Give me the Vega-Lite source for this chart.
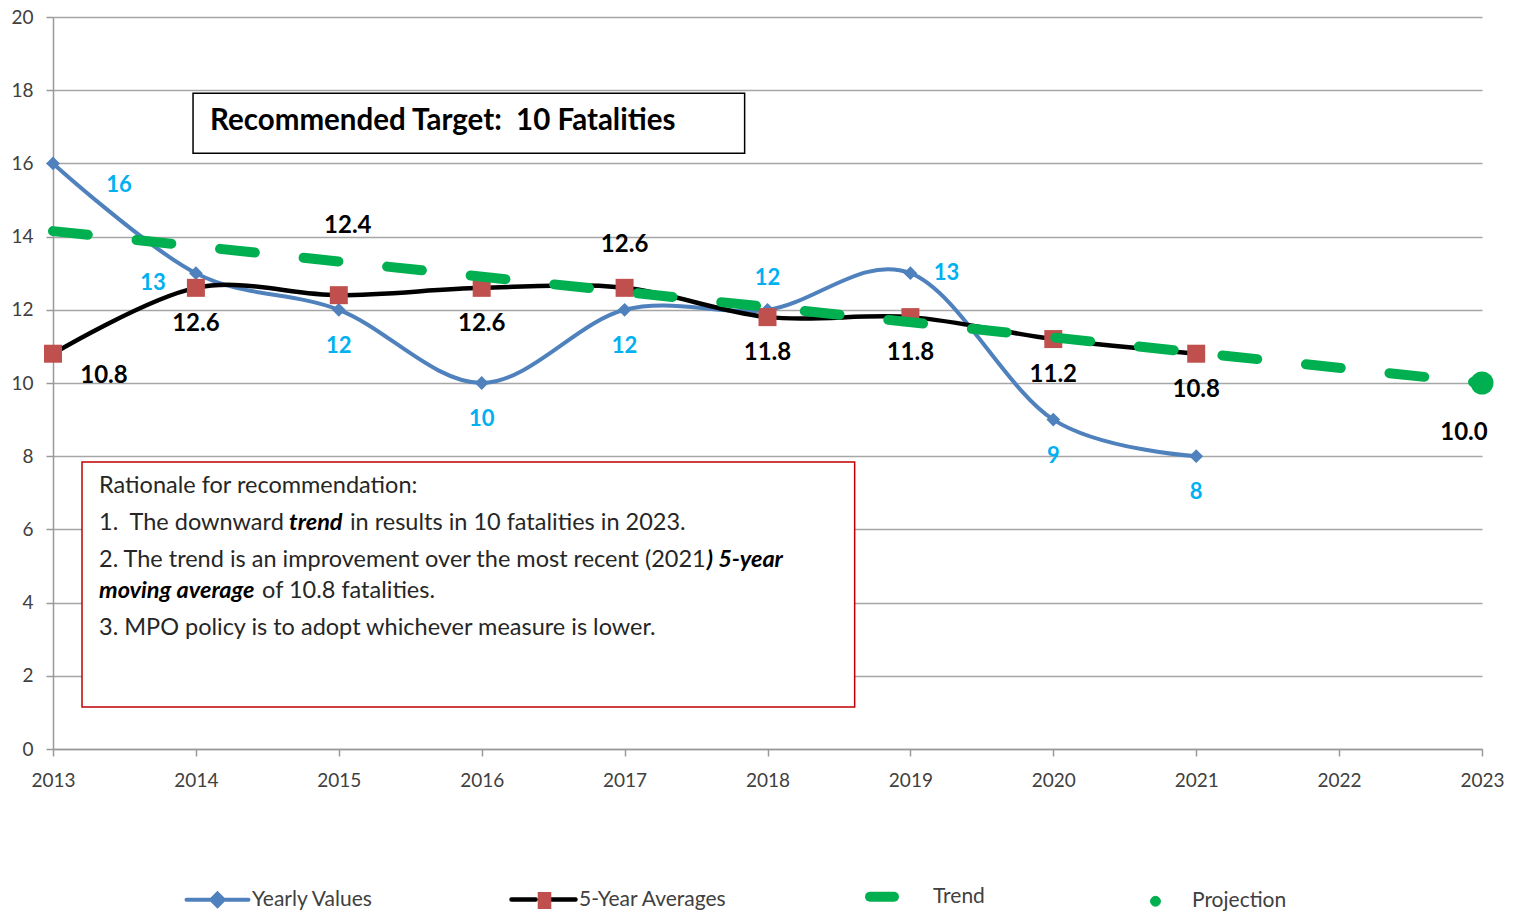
{
  "$schema": "https://vega.github.io/schema/vega-lite/v6.json",
  "width": 1429,
  "height": 732,
  "autosize": {"type": "none"},
  "padding": {"left": 53, "top": 17, "right": 39, "bottom": 165},
  "background": "white",
  "config": {"view": {"stroke": null}, "font": "Lato"},
  "data": {
    "values": [
      {"series": "Yearly Values", "year": 2013, "value": 16},
      {"series": "Yearly Values", "year": 2014, "value": 13},
      {"series": "Yearly Values", "year": 2015, "value": 12},
      {"series": "Yearly Values", "year": 2016, "value": 10},
      {"series": "Yearly Values", "year": 2017, "value": 12},
      {"series": "Yearly Values", "year": 2018, "value": 12},
      {"series": "Yearly Values", "year": 2019, "value": 13},
      {"series": "Yearly Values", "year": 2020, "value": 9},
      {"series": "Yearly Values", "year": 2021, "value": 8},
      {"series": "5-Year Averages", "year": 2013, "value": 10.8},
      {"series": "5-Year Averages", "year": 2014, "value": 12.6},
      {"series": "5-Year Averages", "year": 2015, "value": 12.4},
      {"series": "5-Year Averages", "year": 2016, "value": 12.6},
      {"series": "5-Year Averages", "year": 2017, "value": 12.6},
      {"series": "5-Year Averages", "year": 2018, "value": 11.8},
      {"series": "5-Year Averages", "year": 2019, "value": 11.8},
      {"series": "5-Year Averages", "year": 2020, "value": 11.2},
      {"series": "5-Year Averages", "year": 2021, "value": 10.8},
      {"series": "Trend", "year": 2013, "value": 14.15},
      {"series": "Trend", "year": 2023, "value": 10.0},
      {"series": "Projection", "year": 2023, "value": 10.0}
    ]
  },
  "encoding": {
    "x": {
      "field": "year", "type": "quantitative",
      "scale": {"domain": [2013, 2023], "nice": false, "zero": false},
      "axis": {
        "title": null, "values": [2013, 2014, 2015, 2016, 2017, 2018, 2019, 2020, 2021, 2022, 2023],
        "format": "d", "grid": false, "labelFlush": false, "labelOverlap": false,
        "tickSize": 7, "tickColor": "#999999", "tickWidth": 1.5, "domainColor": "#999999", "domainWidth": 1.5,
        "labelFontSize": 19, "labelColor": "#404040", "labelFont": "Lato", "labelPadding": 15
      }
    },
    "y": {
      "field": "value", "type": "quantitative",
      "scale": {"domain": [0, 20], "nice": false, "zero": true},
      "axis": {
        "title": null, "values": [0, 2, 4, 6, 8, 10, 12, 14, 16, 18, 20],
        "grid": true, "gridColor": "#A6A6A6", "gridWidth": 1.5,
        "tickSize": 7, "tickColor": "#999999", "tickWidth": 1.5, "domainColor": "#999999", "domainWidth": 1.5,
        "labelFontSize": 19, "labelColor": "#404040", "labelFont": "Lato", "labelPadding": 13
      }
    }
  },
  "layer": [
    {
      "transform": [{"filter": "datum.series === 'Projection'"}],
      "mark": {"type": "rect", "fill": "white", "stroke": "black", "strokeWidth": 1.5},
      "encoding": {
        "x": {"datum": 2013.98, "type": "quantitative"}, "x2": {"datum": 2017.84},
        "y": {"datum": 17.92, "type": "quantitative"}, "y2": {"datum": 16.28}
      }
    },
    {
      "transform": [{"filter": "datum.series === 'Projection'"}],
      "mark": {"type": "text", "text": "Recommended Target:\u00a0 10 Fatalities", "align": "left", "baseline": "middle", "font": "Lato", "fontSize": 29.5, "fontWeight": "bold", "color": "#000000"},
      "encoding": {"x": {"datum": 2014.099, "type": "quantitative"}, "y": {"datum": 17.16, "type": "quantitative"}}
    },
    {
      "transform": [{"filter": "datum.series === 'Projection'"}],
      "mark": {"type": "rect", "fill": "white", "stroke": "#C00000", "strokeWidth": 1.5},
      "encoding": {
        "x": {"datum": 2013.203, "type": "quantitative"}, "x2": {"datum": 2018.61},
        "y": {"datum": 7.84, "type": "quantitative"}, "y2": {"datum": 1.15}
      }
    },
    {
      "transform": [{"filter": "datum.series === 'Projection'"}],
      "mark": {"type": "text", "text": "Rationale for recommendation:", "align": "left", "baseline": "middle", "font": "Lato", "fontSize": 23.5, "color": "#262626"},
      "encoding": {"x": {"datum": 2013.322, "type": "quantitative"}, "y": {"datum": 7.186, "type": "quantitative"}}
    },
    {
      "transform": [{"filter": "datum.series === 'Projection'"}],
      "mark": {"type": "text", "text": "1.\u00a0 The downward", "align": "left", "baseline": "middle", "font": "Lato", "fontSize": 23.5, "color": "#262626"},
      "encoding": {"x": {"datum": 2013.322, "type": "quantitative"}, "y": {"datum": 6.175, "type": "quantitative"}}
    },
    {
      "transform": [{"filter": "datum.series === 'Projection'"}],
      "mark": {"type": "text", "text": "trend", "align": "left", "baseline": "middle", "font": "Lato", "fontSize": 23.5, "fontWeight": "bold", "fontStyle": "italic", "color": "#000000"},
      "encoding": {"x": {"datum": 2014.652, "type": "quantitative"}, "y": {"datum": 6.175, "type": "quantitative"}}
    },
    {
      "transform": [{"filter": "datum.series === 'Projection'"}],
      "mark": {"type": "text", "text": "in results in 10 fatalities in 2023.", "align": "left", "baseline": "middle", "font": "Lato", "fontSize": 23.5, "color": "#262626"},
      "encoding": {"x": {"datum": 2015.078, "type": "quantitative"}, "y": {"datum": 6.175, "type": "quantitative"}}
    },
    {
      "transform": [{"filter": "datum.series === 'Projection'"}],
      "mark": {"type": "text", "text": "2. The trend is an improvement over the most recent (2021", "align": "left", "baseline": "middle", "font": "Lato", "fontSize": 23.5, "color": "#262626"},
      "encoding": {"x": {"datum": 2013.322, "type": "quantitative"}, "y": {"datum": 5.164, "type": "quantitative"}}
    },
    {
      "transform": [{"filter": "datum.series === 'Projection'"}],
      "mark": {"type": "text", "text": ") 5-year", "align": "left", "baseline": "middle", "font": "Lato", "fontSize": 23.5, "fontWeight": "bold", "fontStyle": "italic", "color": "#000000"},
      "encoding": {"x": {"datum": 2017.575, "type": "quantitative"}, "y": {"datum": 5.164, "type": "quantitative"}}
    },
    {
      "transform": [{"filter": "datum.series === 'Projection'"}],
      "mark": {"type": "text", "text": "moving average", "align": "left", "baseline": "middle", "font": "Lato", "fontSize": 23.5, "fontWeight": "bold", "fontStyle": "italic", "color": "#000000"},
      "encoding": {"x": {"datum": 2013.322, "type": "quantitative"}, "y": {"datum": 4.317, "type": "quantitative"}}
    },
    {
      "transform": [{"filter": "datum.series === 'Projection'"}],
      "mark": {"type": "text", "text": "of 10.8 fatalities.", "align": "left", "baseline": "middle", "font": "Lato", "fontSize": 23.5, "color": "#262626"},
      "encoding": {"x": {"datum": 2014.463, "type": "quantitative"}, "y": {"datum": 4.317, "type": "quantitative"}}
    },
    {
      "transform": [{"filter": "datum.series === 'Projection'"}],
      "mark": {"type": "text", "text": "3. MPO policy is to adopt whichever measure is lower.", "align": "left", "baseline": "middle", "font": "Lato", "fontSize": 23.5, "color": "#262626"},
      "encoding": {"x": {"datum": 2013.322, "type": "quantitative"}, "y": {"datum": 3.306, "type": "quantitative"}}
    },
    {
      "transform": [{"filter": "datum.series === 'Yearly Values'"}],
      "mark": {"type": "line", "interpolate": "cardinal", "strokeWidth": 4},
      "encoding": {
        "color": {
          "field": "series", "type": "nominal",
          "scale": {"domain": ["Yearly Values", "5-Year Averages", "Trend", "Projection"], "range": ["#4F81BD", "#000000", "#00B050", "#00B050"]},
          "legend": {
            "orient": "none", "legendX": 174, "legendY": 869, "direction": "horizontal", "title": null,
            "symbolSize": 3844, "columnPadding": 122, "labelFont": "Lato", "labelFontSize": 21, "labelColor": "#404040", "labelOffset": 4,
            "encode": {
              "symbols": {
                "update": {
                  "shape": {"signal": "datum.value === 'Yearly Values' ? 'M-0.6,-0.452M-0.6,0.452M-1.645,0H0.355M-0.645,-0.2L-0.445,0L-0.645,0.2L-0.845,0Z' : datum.value === '5-Year Averages' ? 'M-0.6,-0.435M-0.6,0.435M-1.905,0M-1.71,0H-0.93M-0.49,0H0.355' : datum.value === 'Trend' ? 'M-1.2,-0.258M-1.2,0.258M-1.565,0H-0.79' : 'M-0.7,-0.548M-0.7,0.548M-2.2,0M-0.87,0A0.16,0.16 0 1,0 -0.55,0A0.16,0.16 0 1,0 -0.87,0Z'"},
                  "strokeWidth": {"signal": "datum.value === 'Trend' ? 10 : datum.value === 'Projection' ? 1 : datum.value === '5-Year Averages' ? 4.5 : 4"},
                  "strokeCap": {"value": "round"},
                  "opacity": {"value": 1}
                }
              }
            }
          }
        }
      }
    },
    {
      "transform": [{"filter": "datum.series === 'Yearly Values'"}],
      "mark": {"type": "point", "shape": "diamond", "filled": true, "size": 190, "color": "#4F81BD", "opacity": 1}
    },
    {
      "transform": [{"filter": "datum.series === '5-Year Averages'"}],
      "mark": {"type": "line", "interpolate": "cardinal", "strokeWidth": 4.5},
      "encoding": {"color": {"field": "series", "type": "nominal"}}
    },
    {
      "transform": [{"filter": "datum.series === '5-Year Averages'"}],
      "mark": {"type": "square", "size": 324, "opacity": 1},
      "encoding": {
        "fill": {
          "field": "series", "type": "nominal",
          "scale": {"domain": ["5-Year Averages"], "range": ["#C0504D"]},
          "legend": {
            "orient": "none", "legendX": 483, "legendY": 875, "direction": "horizontal", "title": null,
            "symbolSize": 289, "labelExpr": "''", "labelFontSize": 1, "labelOffset": 0,
            "symbolType": "M-0.8,-1H0.8V1H-0.8Z", "symbolStrokeWidth": 0, "symbolOpacity": 1
          }
        }
      }
    },
    {
      "transform": [{"filter": "datum.series === 'Trend'"}],
      "mark": {"type": "line", "strokeWidth": 10, "strokeDash": [35, 49], "strokeCap": "round"},
      "encoding": {"color": {"field": "series", "type": "nominal"}}
    },
    {
      "transform": [{"filter": "datum.series === 'Projection'"}],
      "mark": {"type": "circle", "size": 530, "opacity": 1},
      "encoding": {"color": {"field": "series", "type": "nominal"}}
    },
    {
      "transform": [{"filter": "datum.series === 'Yearly Values' && indexof([2015, 2016, 2017, 2020, 2021], datum.year) >= 0"}],
      "mark": {"type": "text", "dy": 36, "font": "Lato", "fontSize": 22, "fontWeight": "bold", "color": "#00B0F0"},
      "encoding": {"text": {"field": "value", "type": "quantitative", "format": "d"}}
    },
    {
      "transform": [{"filter": "datum.series === 'Yearly Values' && datum.year === 2018"}],
      "mark": {"type": "text", "dy": -32, "font": "Lato", "fontSize": 22, "fontWeight": "bold", "color": "#00B0F0"},
      "encoding": {"text": {"field": "value", "type": "quantitative", "format": "d"}}
    },
    {
      "transform": [{"filter": "datum.series === 'Yearly Values' && datum.year === 2019"}],
      "mark": {"type": "text", "dx": 36, "font": "Lato", "fontSize": 22, "fontWeight": "bold", "color": "#00B0F0"},
      "encoding": {"text": {"field": "value", "type": "quantitative", "format": "d"}}
    },
    {
      "transform": [{"filter": "datum.series === 'Yearly Values' && datum.year === 2013"}],
      "mark": {"type": "text", "dx": 66, "dy": 22, "font": "Lato", "fontSize": 22, "fontWeight": "bold", "color": "#00B0F0"},
      "encoding": {"text": {"field": "value", "type": "quantitative", "format": "d"}}
    },
    {
      "transform": [{"filter": "datum.series === 'Yearly Values' && datum.year === 2014"}],
      "mark": {"type": "text", "dx": -43, "dy": 10, "font": "Lato", "fontSize": 22, "fontWeight": "bold", "color": "#00B0F0"},
      "encoding": {"text": {"field": "value", "type": "quantitative", "format": "d"}}
    },
    {
      "transform": [{"filter": "datum.series === '5-Year Averages' && indexof([2014, 2016, 2018, 2019, 2020, 2021], datum.year) >= 0"}],
      "mark": {"type": "text", "dy": 36, "font": "Lato", "fontSize": 24, "fontWeight": "bold", "color": "#000000"},
      "encoding": {"text": {"field": "value", "type": "quantitative", "format": ".1f"}}
    },
    {
      "transform": [{"filter": "datum.series === '5-Year Averages' && datum.year === 2013"}],
      "mark": {"type": "text", "dx": 51, "dy": 22, "font": "Lato", "fontSize": 24, "fontWeight": "bold", "color": "#000000"},
      "encoding": {"text": {"field": "value", "type": "quantitative", "format": ".1f"}}
    },
    {
      "transform": [{"filter": "datum.series === '5-Year Averages' && datum.year === 2015"}],
      "mark": {"type": "text", "dx": 9, "dy": -69, "font": "Lato", "fontSize": 24, "fontWeight": "bold", "color": "#000000"},
      "encoding": {"text": {"field": "value", "type": "quantitative", "format": ".1f"}}
    },
    {
      "transform": [{"filter": "datum.series === '5-Year Averages' && datum.year === 2017"}],
      "mark": {"type": "text", "dy": -43, "font": "Lato", "fontSize": 24, "fontWeight": "bold", "color": "#000000"},
      "encoding": {"text": {"field": "value", "type": "quantitative", "format": ".1f"}}
    },
    {
      "transform": [{"filter": "datum.series === 'Projection'"}],
      "mark": {"type": "text", "dx": -18, "dy": 50, "font": "Lato", "fontSize": 24, "fontWeight": "bold", "color": "#000000"},
      "encoding": {"text": {"field": "value", "type": "quantitative", "format": ".1f"}}
    }
  ]
}
